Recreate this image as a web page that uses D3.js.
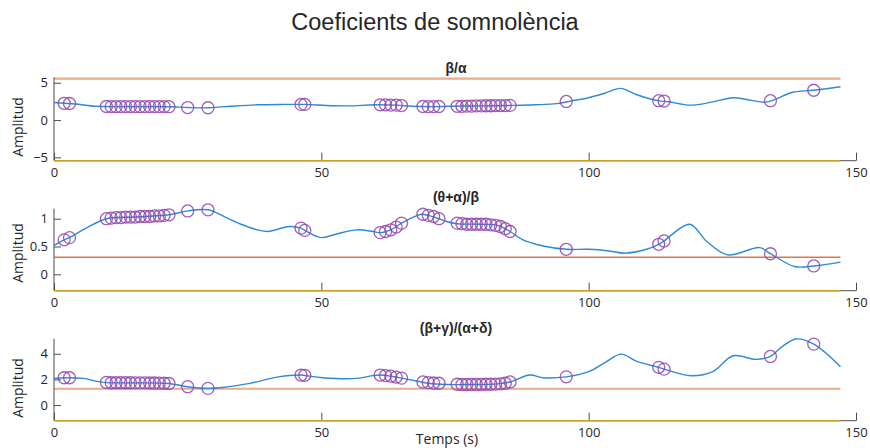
<!DOCTYPE html>
<html>
<head>
<meta charset="utf-8">
<script src="https://cdn.jsdelivr.net/npm/d3@7"></script>
<style>
  body { margin: 0; background: #fff; }
  text { fill: #262626; }
</style>
</head>
<body>
<svg id="chart" width="870" height="448"></svg>
<script>
// ---- data ----
const xTicks = [0, 50, 100, 150];

// detection instants (s), shared by the three coefficients
const eventTimes = [1.9, 2.9,
  9.8, 10.7, 11.6, 12.5, 13.4, 14.3, 15.2, 16.1, 17.0, 17.9, 18.8, 19.7, 20.6, 21.5,
  25.0, 28.8, 46.2, 46.9,
  61.0, 62.0, 63.0, 64.0, 65.0,
  69.0, 70.0, 71.0, 72.0,
  75.4, 76.3, 77.2, 78.1, 79.0, 79.9, 80.8, 81.7, 82.6, 83.5, 84.4, 85.3,
  95.8, 113.1, 114.1, 134.0, 142.1];

// β/α
const baTime  = [0, 2, 4, 8, 12, 18, 22, 25, 29, 33, 38, 43, 47, 51, 55, 60, 64, 67, 71, 74, 80, 86, 90, 94, 97, 100, 103, 106, 109, 113, 115, 119, 123, 127, 130, 133, 135, 138, 142, 147.1];
const baValue = [2.35, 2.25, 2.15, 1.85, 1.8, 1.8, 1.78, 1.68, 1.65, 1.85, 2.05, 2.1, 2.1, 1.95, 1.9, 2.05, 2.0, 1.85, 1.8, 1.85, 1.9, 1.97, 2.05, 2.2, 2.6, 3.0, 3.6, 4.25, 3.4, 2.6, 2.45, 2.0, 2.4, 3.0, 2.7, 2.4, 2.8, 3.7, 4.0, 4.47];
const baMarks = [2.25, 2.22,
  1.82, 1.8, 1.8, 1.8, 1.8, 1.8, 1.8, 1.8, 1.8, 1.8, 1.8, 1.8, 1.8, 1.79,
  1.68, 1.65, 2.1, 2.1,
  2.05, 2.05, 2.0, 2.0, 1.95,
  1.82, 1.8, 1.8, 1.82,
  1.85, 1.85, 1.87, 1.87, 1.9, 1.9, 1.92, 1.92, 1.95, 1.95, 1.95, 1.97,
  2.5, 2.6, 2.55, 2.6, 4.0];
const baLimits = [-5.45, 5.55];
const baTicks = [-5, 0, 5];

// (θ+α)/β
const tabTime  = [0, 1.9, 2.9, 6, 9.8, 15, 21.5, 25, 28.8, 32, 35, 38, 40, 44, 46.2, 46.9, 50, 53, 56.6, 59.7, 61, 63, 65, 67, 68.7, 70, 72, 73.4, 75.4, 80, 83, 85.3, 87.7, 91.5, 95.8, 100, 103.9, 106.7, 110.8, 113.1, 114.1, 118.9, 122, 126, 132, 134, 138.5, 142.1, 147.1];
const tabValue = [0.52, 0.62, 0.66, 0.83, 1.0, 1.03, 1.07, 1.14, 1.16, 1.03, 0.9, 0.8, 0.77, 0.86, 0.83, 0.79, 0.66, 0.73, 0.8, 0.77, 0.75, 0.8, 0.92, 1.02, 1.08, 1.06, 1.0, 0.95, 0.91, 0.9, 0.88, 0.77, 0.62, 0.51, 0.45, 0.45, 0.42, 0.38, 0.45, 0.54, 0.6, 0.9, 0.6, 0.35, 0.48, 0.37, 0.14, 0.15, 0.22];
const tabMarks = [0.62, 0.66,
  1.0, 1.01, 1.02, 1.02, 1.03, 1.03, 1.03, 1.04, 1.04, 1.04, 1.05, 1.05, 1.06, 1.07,
  1.14, 1.16, 0.83, 0.79,
  0.75, 0.77, 0.8, 0.85, 0.92,
  1.08, 1.06, 1.04, 1.0,
  0.92, 0.91, 0.9, 0.9, 0.9, 0.9, 0.9, 0.89, 0.88, 0.86, 0.82, 0.77,
  0.45, 0.54, 0.6, 0.37, 0.15];
const tabLimits = [-0.295, 0.306];
const tabTicks = [0, 0.5, 1];

// (β+γ)/(α+δ)
const bgadTime  = [0, 2, 5.5, 8, 9.8, 15, 21.5, 25, 28.8, 32, 36.6, 42, 46.2, 47, 50.3, 56.6, 59.7, 61, 63, 65, 67.8, 70, 73.4, 78, 83, 85.3, 89, 91.5, 95.8, 100, 103, 106.1, 109, 113.1, 114.1, 119.2, 123.2, 127, 131.3, 134, 136, 138.8, 142.1, 147.1];
const bgadValue = [2.08, 2.13, 2.08, 1.85, 1.75, 1.73, 1.68, 1.43, 1.3, 1.4, 1.69, 2.2, 2.34, 2.3, 2.13, 2.08, 2.3, 2.34, 2.25, 2.1, 1.87, 1.7, 1.6, 1.6, 1.65, 1.8, 2.34, 2.13, 2.2, 2.6, 3.3, 3.97, 3.4, 2.94, 2.8, 2.28, 2.6, 3.84, 3.56, 3.79, 4.5, 5.15, 4.75, 2.99];
const bgadMarks = [2.13, 2.13,
  1.76, 1.74, 1.74, 1.74, 1.74, 1.74, 1.73, 1.73, 1.73, 1.72, 1.72, 1.71, 1.7, 1.68,
  1.43, 1.3, 2.34, 2.32,
  2.34, 2.3, 2.25, 2.18, 2.1,
  1.8, 1.75, 1.72, 1.7,
  1.62, 1.6, 1.6, 1.6, 1.6, 1.6, 1.62, 1.62, 1.63, 1.65, 1.7, 1.8,
  2.2, 2.94, 2.8, 3.79, 4.75];
const bgadLimits = [-1.22, 1.27];
const bgadTicks = [0, 2, 4];

// ---- layout ----
const svg = d3.select("#chart");
const x = d3.scaleLinear().domain([0, 150]).range([54, 856]);

const panels = [
  { title: "β/α", t: baTime, v: baValue, marks: baMarks, limits: baLimits, ticks: baTicks,
    domain: [-5.45, 5.75], bottom: 160.7, top: 77.2, titleY: 73, labelY: 127,
    upperWidth: 2.2, upperOpacity: 0.5, tickFmt: d3.format("d") },
  { title: "(θ+α)/β", t: tabTime, v: tabValue, marks: tabMarks, limits: tabLimits, ticks: tabTicks,
    domain: [-0.295, 1.18], bottom: 290.7, top: 208.7, titleY: 202, labelY: 253,
    upperWidth: 1.4, upperOpacity: 0.8, tickFmt: d => String(d) },
  { title: "(β+γ)/(α+δ)", t: bgadTime, v: bgadValue, marks: bgadMarks, limits: bgadLimits, ticks: bgadTicks,
    domain: [-1.22, 5.18], bottom: 420.7, top: 338.6, titleY: 333, labelY: 388,
    upperWidth: 2.2, upperOpacity: 0.5, tickFmt: d3.format("d") }
];

const tickFont = "'Open Sans', 'Noto Sans', sans-serif";

svg.append("text")
  .attr("x", 435).attr("y", 30)
  .attr("text-anchor", "middle")
  .style("font-family", "'Liberation Sans', Arial, sans-serif")
  .style("font-size", "23.5px")
  .text("Coeficients de somnolència");

panels.forEach(p => {
  const y = d3.scaleLinear().domain(p.domain).range([p.bottom, p.top]);
  const g = svg.append("g");
  const tEnd = p.t[p.t.length - 1];

  // y axis (ticks pointing inward)
  const yAxis = d3.axisLeft(y).tickValues(p.ticks).tickSize(-7).tickPadding(6).tickFormat(p.tickFmt);
  const ya = g.append("g").attr("transform", `translate(${x(0)},0)`).call(yAxis);
  ya.select(".domain").attr("d", `M0,${p.bottom}V${p.top}`).attr("stroke", "#4d4d4d").attr("stroke-width", 1);
  ya.selectAll(".tick line").attr("stroke", "#4d4d4d");
  ya.selectAll(".tick text").style("font-family", tickFont).style("font-size", "13px").attr("fill", "#262626");

  // x axis (ticks pointing inward)
  const xAxis = d3.axisBottom(x).tickValues(xTicks).tickSize(-8).tickPadding(7).tickFormat(d3.format("d"));
  const xa = g.append("g").attr("transform", `translate(0,${p.bottom})`).call(xAxis);
  xa.select(".domain").attr("d", `M${x(0)},0H${x(150)}`).attr("stroke", "#4d4d4d").attr("stroke-width", 1);
  xa.selectAll(".tick line").attr("stroke", "#4d4d4d");
  xa.selectAll(".tick text").style("font-family", tickFont).style("font-size", "13px").attr("fill", "#262626");

  // threshold lines
  g.append("line")
    .attr("x1", x(0)).attr("x2", x(tEnd))
    .attr("y1", y(p.limits[1])).attr("y2", y(p.limits[1]))
    .attr("stroke", "#D95319").attr("stroke-opacity", p.upperOpacity).attr("stroke-width", p.upperWidth);
  g.append("line")
    .attr("x1", x(0)).attr("x2", x(tEnd))
    .attr("y1", y(p.limits[0])).attr("y2", y(p.limits[0]))
    .attr("stroke", "#C99E22").attr("stroke-width", 1.6);

  // coefficient curve
  const pts = p.t.map((t, i) => [t, p.v[i]]);
  const line = d3.line().x(d => x(d[0])).y(d => y(d[1])).curve(d3.curveCatmullRom.alpha(0.5));
  g.append("path").datum(pts)
    .attr("d", line)
    .attr("fill", "none").attr("stroke", "#2C8AD6").attr("stroke-width", 1.4);

  // detection markers
  g.selectAll("circle.mk").data(eventTimes.map((t, i) => [t, p.marks[i]]))
    .join("circle").attr("class", "mk")
    .attr("cx", d => x(d[0])).attr("cy", d => y(d[1])).attr("r", 6)
    .attr("fill", "none").attr("stroke", "#8E44AD").attr("stroke-opacity", 0.85).attr("stroke-width", 1.3);

  // panel title
  g.append("text")
    .attr("x", 456).attr("y", p.titleY)
    .attr("text-anchor", "middle")
    .style("font-family", "'Liberation Sans', Arial, sans-serif")
    .style("font-weight", "bold").style("font-size", "14px")
    .text(p.title);

  // y label
  g.append("text")
    .attr("transform", `translate(23,${p.labelY}) rotate(-90)`)
    .attr("text-anchor", "middle")
    .style("font-family", tickFont).style("font-size", "14px")
    .attr("fill", "#404040")
    .text("Amplitud");
});

svg.append("text")
  .attr("x", 447).attr("y", 444)
  .attr("text-anchor", "middle")
  .style("font-family", tickFont).style("font-size", "14px")
  .attr("fill", "#404040")
  .text("Temps (s)");
</script>
</body>
</html>
